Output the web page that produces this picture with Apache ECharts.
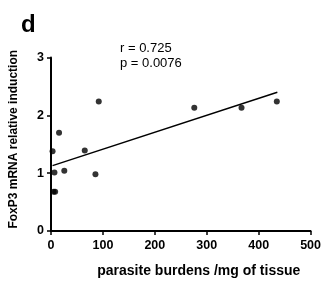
<!DOCTYPE html>
<html>
<head>
<meta charset="utf-8">
<script src="https://cdn.jsdelivr.net/npm/echarts@6/dist/echarts.min.js"></script>
<style>
  html, body { margin: 0; padding: 0; background: #fff; }
  #chart { width: 324px; height: 283px; }
</style>
</head>
<body>
<div id="chart"></div>
<script>
// parasite burden (x) vs FoxP3 relative induction (y)
const burden = [3, 5, 8, 6.6, 15.5, 25.6, 65, 85.6, 92, 276, 367, 435]
const foxp3 = [1.38, 0.68, 0.68, 1.01, 1.70, 1.04, 1.39, 0.98, 2.24, 2.13, 2.13, 2.24]
// regression line end points
const fitX = [3, 436]
const fitY = [1.13, 2.40]
const xTicks = [0, 100, 200, 300, 400, 500]
const yTicks = [0, 1, 2, 3]

const chart = echarts.init(document.getElementById('chart'))

const font = 'Liberation Sans, Arial, sans-serif'

const options = {
  animation: false,
  textStyle: { fontFamily: font },
  grid: {
    left: 48.5,
    right: 11.5,
    top: 57.5,
    bottom: 49.5
  },
  graphic: [
    {
      type: 'text', left: 21, top: 13,
      style: { text: 'd', font: 'bold 24px ' + font, fill: '#000' }
    },
    {
      type: 'text', left: 120, top: 41,
      style: { text: 'r = 0.725\np = 0.0076', font: '13px ' + font, fill: '#000', lineHeight: 15 }
    }
  ],
  xAxis: {
    type: 'value',
    min: xTicks[0],
    max: xTicks[xTicks.length - 1],
    interval: 100,
    name: 'parasite burdens /mg of tissue',
    nameLocation: 'middle',
    nameGap: 33,
    nameTextStyle: { fontWeight: 'bold', fontSize: 14, color: '#000', padding: [0, 0, 0, 36] },
    axisLine: { lineStyle: { color: '#000', width: 2 } },
    axisTick: { show: true, length: 4, lineStyle: { color: '#000', width: 1.5 } },
    axisLabel: { fontWeight: 'bold', fontSize: 12.5, color: '#000', margin: 8 },
    splitLine: { show: false }
  },
  yAxis: {
    type: 'value',
    min: yTicks[0],
    max: yTicks[yTicks.length - 1],
    interval: 1,
    name: 'FoxP3 mRNA relative induction',
    nameLocation: 'middle',
    nameGap: 31,
    nameTextStyle: { fontWeight: 'bold', fontSize: 12, color: '#000', padding: [0, 0, 0, 10] },
    axisLine: { show: true, lineStyle: { color: '#000', width: 2 } },
    axisTick: { show: true, length: 4, lineStyle: { color: '#000', width: 1.5 } },
    axisLabel: { fontWeight: 'bold', fontSize: 12.5, color: '#000', margin: 7 },
    splitLine: { show: false }
  },
  series: [
    {
      type: 'scatter',
      symbolSize: 6,
      itemStyle: { color: '#000' },
      data: burden.map((x, i) => [x, foxp3[i]])
    },
    {
      type: 'line',
      symbol: 'none',
      lineStyle: { color: '#000', width: 1.5 },
      data: fitX.map((x, i) => [x, fitY[i]])
    }
  ]
}

chart.setOption(options)
</script>
</body>
</html>
